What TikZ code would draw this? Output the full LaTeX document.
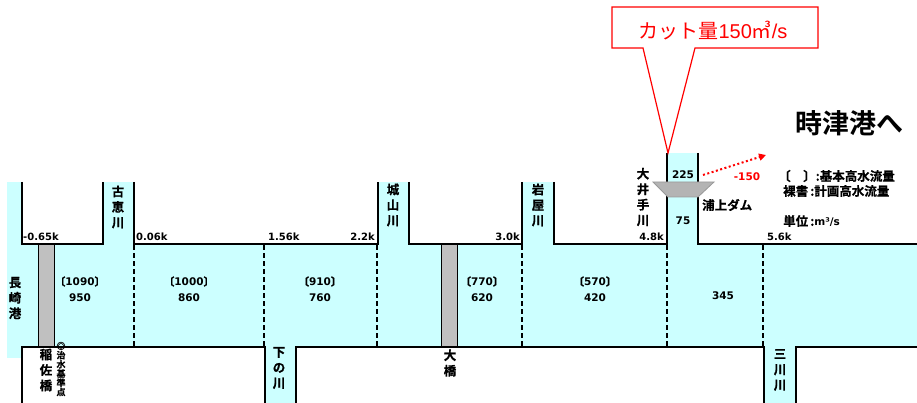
\documentclass[tikz,border=0pt]{standalone}
\usepackage{fontspec}
\setmainfont{DejaVu Sans}
\newfontfamily\jp{Noto Sans CJK JP}[BoldFont={Noto Sans CJK JP Bold}]
\newfontfamily\jpb{Noto Sans CJK JP Bold}[FakeBold=0.6]
\newfontfamily\arl{Liberation Sans}
\usetikzlibrary{arrows.meta}
\definecolor{wcyan}{HTML}{CCFFFF}
\definecolor{bgrey}{HTML}{C0C0C0}
\definecolor{dgrey}{HTML}{B4B4B4}
\newcommand{\lb}{{\jpb〔}}
\newcommand{\rb}{{\jpb〕}}
\begin{document}
\begin{tikzpicture}[x=1pt,y=-1pt,
  wall/.style={line width=2.8pt},
  bridge/.style={fill=bgrey,draw=black,line width=0.8pt},
  sec/.style={line width=1.3pt, dash pattern=on 5pt off 3pt},
  lab/.style={font=\bfseries\fontsize{10}{12}\selectfont, inner sep=0pt},
  vlab/.style={font=\jpb\fontsize{12.5}{15.5}\selectfont, align=center, inner sep=0pt},
  num/.style={font=\bfseries\fontsize{10.5}{16}\selectfont, align=center, inner sep=0pt},
  leg/.style={font=\jpb\fontsize{12.5}{14}\selectfont, inner sep=0pt, anchor=west}]
\useasboundingbox (0,0) rectangle (917,403);
\clip (0,0) rectangle (917,403);
% water
\fill[wcyan] (7,244) rectangle (917,347);
\fill[wcyan] (7,182) rectangle (22,358);
\fill[wcyan] (103,182) rectangle (134,244);
\fill[wcyan] (378,182) rectangle (409,244);
\fill[wcyan] (522,182) rectangle (554,244);
\fill[wcyan] (667,153) rectangle (698,244);
\fill[wcyan] (265,347) rectangle (296,403);
\fill[wcyan] (764,347) rectangle (796,403);
% section lines
\foreach \x in {134,264,377,522,667,763}
  \draw[sec] (\x,245) -- (\x,347);
% bridges
\draw[bridge] (38,244) rectangle (54,347);
\draw[bridge] (441,244) rectangle (457,347);
% walls
\draw[wall] (22,182) -- (22,244) -- (103,244) -- (103,182);
\draw[wall] (134,182) -- (134,244) -- (378,244) -- (378,182);
\draw[wall] (409,182) -- (409,244) -- (522,244) -- (522,182);
\draw[wall] (554,182) -- (554,244) -- (667,244) -- (667,153);
\draw[wall] (698,153) -- (698,244) -- (917,244);
\draw[wall] (22,403) -- (22,347) -- (265,347) -- (265,403);
\draw[wall] (296,403) -- (296,347) -- (764,347) -- (764,403);
\draw[wall] (796,403) -- (796,347) -- (917,347);
% dam
\draw[fill=dgrey, draw=gray!80, line width=0.8pt] (653,182) -- (714,182) -- (698,197) -- (668,197) -- cycle;
% km labels
\node[lab, anchor=south west] (k1) at (23,241) {-0.65k};
\node[lab, anchor=south west] (k2) at (136,241) {0.06k};
\node[lab, anchor=south west] (k3) at (268,241) {1.56k};
\node[lab, anchor=south east] (k4) at (375,241) {2.2k};
\node[lab, anchor=south east] (k5) at (520,241) {3.0k};
\node[lab, anchor=south east] (k6) at (664,241) {4.8k};
\node[lab, anchor=south west] (k7) at (767,241) {5.6k};
% flows
\node[num] (f1) at (80,289) {\lb1090\rb\\950};
\node[num] (f2) at (189,289) {\lb1000\rb\\860};
\node[num] (f3) at (320,289) {\lb910\rb\\760};
\node[num] (f4) at (482,289) {\lb770\rb\\620};
\node[num] (f5) at (595,289) {\lb570\rb\\420};
\node[num] (f6) at (723,296) {345};
\node[num] (f7) at (683,175) {225};
\node[num] (f8) at (683,221) {75};
% vertical labels
\node[vlab] (r1) at (118,207) {古\\恵\\川};
\node[vlab] (r2) at (393,205) {城\\山\\川};
\node[vlab] (r3) at (538,205) {岩\\屋\\川};
\node[vlab] (r4) at (643,197) {大\\井\\手\\川};
\node[vlab] (r5) at (15,298) {長\\崎\\港};
\node[vlab] (r6) at (46,370) {稲\\佐\\橋};
\node[font=\jpb\fontsize{9}{9.2}\selectfont, align=center, inner sep=0pt] (r7) at (61,369) {◎\\治\\水\\基\\準\\点};
\node[vlab] (r8) at (279,368) {下\\の\\川};
\node[vlab] (r9) at (450,363) {大\\橋};
\node[vlab] (r10) at (780,370) {三\\川\\川};
\node[leg] (dam) at (702,205) {浦上ダム};
% diversion
\coordinate (a0) at (703,175);
\coordinate (a1) at (766,155);
\draw[red, line width=2pt, dash pattern=on 2pt off 2.5pt, -{Triangle[length=7pt,width=7pt]}] (a0) -- (a1);
\node[font=\bfseries\fontsize{10.5}{13}\selectfont, text=red, inner sep=0pt] (m150) at (747,177) {-150};
% title
\node[font=\jp\bfseries\fontsize{27}{30}\selectfont, inner sep=0pt] (tt) at (849,123) {時津港へ};
% legend
\node[leg] (l1) at (778,176) {〔\hspace{1em}〕:基本高水流量};
\node[leg] (l2) at (783,191) {裸書\,:計画高水流量};
\node[leg] (l3) at (783,221) {単位\,:{\rmfamily\bfseries\fontsize{10.5}{12}\selectfont m³/s}};
% callout
\draw[red, line width=1.2pt, fill=white] (612,7) -- (818,7) -- (818,48) -- (695,48) -- (668,153) -- (643,48) -- (612,48) -- cycle;
\node[font=\jp\fontsize{20}{22}\selectfont, text=red, inner sep=0pt] (co) at (713,31) {カット量{\arl 150}㎥{\arl /s}};
\end{tikzpicture}
\end{document}
